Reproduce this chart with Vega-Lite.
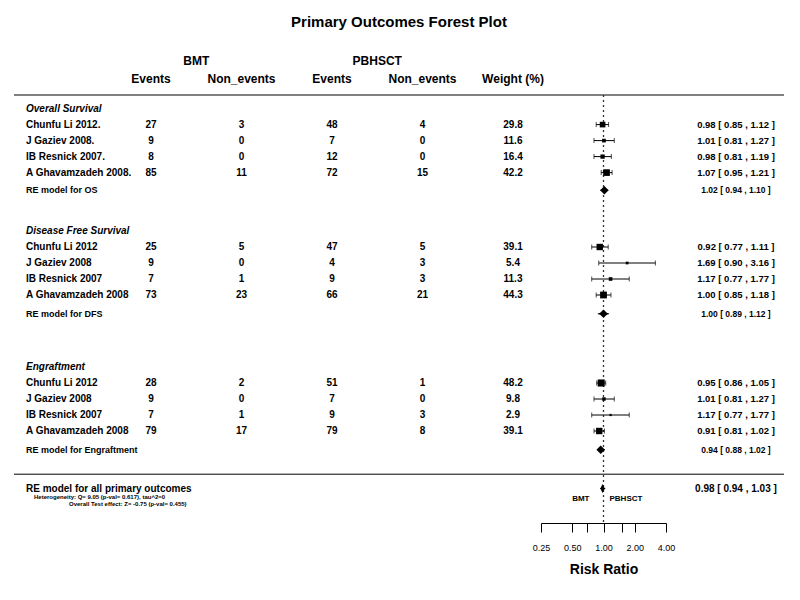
{
  "$schema": "https://vega.github.io/schema/vega-lite/v6.json",
  "padding": {"left": 13, "top": 15, "right": 5, "bottom": 10},
  "title": {"text": "Primary Outcomes Forest Plot", "fontSize": 15, "fontWeight": "bold", "font": "Liberation Sans", "anchor": "middle", "offset": 17, "color": "black"},
  "config": {"view": {"stroke": null}, "text": {"font": "Liberation Sans", "color": "black"},
    "axisX": {"grid": false, "domainColor": "black", "tickColor": "black", "labelColor": "black", "titleColor": "black"}},
  "spacing": 0,
  "bounds": "flush",
  "datasets": {
    "hlines": [{"r": 0}, {"r": 23.7}],
    "refline": [{"rr": 1, "r": 0}],
    "sections": [
      {"name": "Overall Survival", "r": 0.85},
      {"name": "Disease Free Survival", "r": 8.5},
      {"name": "Engraftment", "r": 17.0}
    ],
    "headers": [
      {"col": "BMT", "label": "BMT", "r": -2.15},
      {"col": "PBHSCT", "label": "PBHSCT", "r": -2.15},
      {"col": "bmt_e", "label": "Events", "r": -1.0},
      {"col": "bmt_n", "label": "Non_events", "r": -1.0},
      {"col": "pb_e", "label": "Events", "r": -1.0},
      {"col": "pb_n", "label": "Non_events", "r": -1.0},
      {"col": "weight", "label": "Weight (%)", "r": -1.0}
    ],
    "studies": [
      {"outcome": "OS", "study": "Chunfu Li 2012.", "r": 1.85, "bmt_e": 27, "bmt_n": 3, "pb_e": 48, "pb_n": 4, "weight": 29.8, "est": 0.98, "lo": 0.85, "hi": 1.12, "ci": "0.98 [ 0.85 , 1.12 ]"},
      {"outcome": "OS", "study": "J Gaziev 2008.", "r": 2.85, "bmt_e": 9, "bmt_n": 0, "pb_e": 7, "pb_n": 0, "weight": 11.6, "est": 1.01, "lo": 0.81, "hi": 1.27, "ci": "1.01 [ 0.81 , 1.27 ]"},
      {"outcome": "OS", "study": "IB Resnick 2007.", "r": 3.85, "bmt_e": 8, "bmt_n": 0, "pb_e": 12, "pb_n": 0, "weight": 16.4, "est": 0.98, "lo": 0.81, "hi": 1.19, "ci": "0.98 [ 0.81 , 1.19 ]"},
      {"outcome": "OS", "study": "A Ghavamzadeh 2008.", "r": 4.85, "bmt_e": 85, "bmt_n": 11, "pb_e": 72, "pb_n": 15, "weight": 42.2, "est": 1.07, "lo": 0.95, "hi": 1.21, "ci": "1.07 [ 0.95 , 1.21 ]"},
      {"outcome": "DFS", "study": "Chunfu Li 2012", "r": 9.5, "bmt_e": 25, "bmt_n": 5, "pb_e": 47, "pb_n": 5, "weight": 39.1, "est": 0.92, "lo": 0.77, "hi": 1.11, "ci": "0.92 [ 0.77 , 1.11 ]"},
      {"outcome": "DFS", "study": "J Gaziev 2008", "r": 10.5, "bmt_e": 9, "bmt_n": 0, "pb_e": 4, "pb_n": 3, "weight": 5.4, "est": 1.69, "lo": 0.90, "hi": 3.16, "ci": "1.69 [ 0.90 , 3.16 ]"},
      {"outcome": "DFS", "study": "IB Resnick 2007", "r": 11.5, "bmt_e": 7, "bmt_n": 1, "pb_e": 9, "pb_n": 3, "weight": 11.3, "est": 1.17, "lo": 0.77, "hi": 1.77, "ci": "1.17 [ 0.77 , 1.77 ]"},
      {"outcome": "DFS", "study": "A Ghavamzadeh 2008", "r": 12.5, "bmt_e": 73, "bmt_n": 23, "pb_e": 66, "pb_n": 21, "weight": 44.3, "est": 1.00, "lo": 0.85, "hi": 1.18, "ci": "1.00 [ 0.85 , 1.18 ]"},
      {"outcome": "Engraftment", "study": "Chunfu Li 2012", "r": 18.0, "bmt_e": 28, "bmt_n": 2, "pb_e": 51, "pb_n": 1, "weight": 48.2, "est": 0.95, "lo": 0.86, "hi": 1.05, "ci": "0.95 [ 0.86 , 1.05 ]"},
      {"outcome": "Engraftment", "study": "J Gaziev 2008", "r": 19.0, "bmt_e": 9, "bmt_n": 0, "pb_e": 7, "pb_n": 0, "weight": 9.8, "est": 1.01, "lo": 0.81, "hi": 1.27, "ci": "1.01 [ 0.81 , 1.27 ]"},
      {"outcome": "Engraftment", "study": "IB Resnick 2007", "r": 20.0, "bmt_e": 7, "bmt_n": 1, "pb_e": 9, "pb_n": 3, "weight": 2.9, "est": 1.17, "lo": 0.77, "hi": 1.77, "ci": "1.17 [ 0.77 , 1.77 ]"},
      {"outcome": "Engraftment", "study": "A Ghavamzadeh 2008", "r": 21.0, "bmt_e": 79, "bmt_n": 17, "pb_e": 79, "pb_n": 8, "weight": 39.1, "est": 0.91, "lo": 0.81, "hi": 1.02, "ci": "0.91 [ 0.81 , 1.02 ]"}
    ],
    "pooled": [
      {"kind": "re", "label": "RE model for OS", "r": 5.95, "est": 1.02, "lo": 0.94, "hi": 1.10, "ci": "1.02 [ 0.94 , 1.10 ]"},
      {"kind": "re", "label": "RE model for DFS", "r": 13.67, "est": 1.00, "lo": 0.89, "hi": 1.12, "ci": "1.00 [ 0.89 , 1.12 ]"},
      {"kind": "re", "label": "RE model for Engraftment", "r": 22.17, "est": 0.94, "lo": 0.88, "hi": 1.02, "ci": "0.94 [ 0.88 , 1.02 ]"},
      {"kind": "overall", "label": "RE model for all primary outcomes", "r": 24.6, "est": 0.98, "lo": 0.94, "hi": 1.03, "ci": "0.98 [ 0.94 , 1.03 ]"}
    ],
    "stats": [
      {"line": 1, "text": "Heterogeneity:   Q= 9.05 (p-val= 0.617),    tau^2=0", "r": 25.12},
      {"line": 2, "text": "Overall Test effect:   Z= -0.75 (p-val= 0.455)", "r": 25.57}
    ],
    "directions": [
      {"side": "BMT", "r": 25.25},
      {"side": "PBHSCT", "r": 25.25}
    ]
  },
  "hconcat": [
    {
      "width": 24,
      "height": 476,
      "encoding": {"y": {"field": "r", "type": "quantitative", "scale": {"domain": [-3, 26.75], "reverse": true, "nice": false, "zero": false}, "axis": null}},
      "layer": [
        {"data": {"name": "hlines"}, "mark": {"type": "rule", "color": "black", "strokeWidth": 1}, "encoding": {}},
        {"data": {"name": "sections"}, "mark": {"type": "text", "align": "left", "baseline": "middle", "fontSize": 10, "fontWeight": "bold", "fontStyle": "italic"}, "encoding": {"text": {"field": "name"}}},
        {"data": {"name": "studies"}, "mark": {"type": "text", "align": "left", "baseline": "middle", "fontSize": 10, "fontWeight": "bold"}, "encoding": {"text": {"field": "study"}}},
        {"data": {"name": "pooled"}, "transform": [{"filter": "datum.kind == 're'"}], "mark": {"type": "text", "align": "left", "baseline": "middle", "fontSize": 9, "fontWeight": "bold"}, "encoding": {"text": {"field": "label"}}},
        {"data": {"name": "pooled"}, "transform": [{"filter": "datum.kind == 'overall'"}], "mark": {"type": "text", "align": "left", "baseline": "middle", "fontSize": 10, "fontWeight": "bold"}, "encoding": {"text": {"field": "label"}}},
        {"data": {"name": "stats"}, "transform": [{"filter": "datum.line == 1"}], "mark": {"type": "text", "align": "left", "baseline": "middle", "fontSize": 6, "fontWeight": "bold", "dx": 8}, "encoding": {"text": {"field": "text"}}},
        {"data": {"name": "stats"}, "transform": [{"filter": "datum.line == 2"}], "mark": {"type": "text", "align": "left", "baseline": "middle", "fontSize": 6, "fontWeight": "bold", "dx": 43}, "encoding": {"text": {"field": "text"}}}
      ]
    },
    {
      "width": 503,
      "height": 476,
      "encoding": {"y": {"field": "r", "type": "quantitative", "scale": {"domain": [-3, 26.75], "reverse": true, "nice": false, "zero": false}, "axis": null}},
      "layer": [
        {"data": {"name": "hlines"}, "mark": {"type": "rule", "color": "black", "strokeWidth": 1}, "encoding": {}},
        {"data": {"name": "headers"}, "mark": {"type": "text", "align": "center", "baseline": "middle", "fontSize": 12, "fontWeight": "bold"},
         "encoding": {
           "x": {"field": "col", "type": "nominal", "scale": {"type": "point", "domain": ["lead1", "lead2", "bmt_e", "BMT", "bmt_n", "gap1", "pb_e", "PBHSCT", "pb_n", "gap2", "weight"], "padding": 0.558, "align": 0.4455}, "axis": null},
           "text": {"field": "label"}}},
        {"data": {"name": "studies"}, "transform": [{"fold": ["bmt_e", "bmt_n", "pb_e", "pb_n"], "as": ["col", "n"]}],
         "mark": {"type": "text", "align": "center", "baseline": "middle", "fontSize": 10, "fontWeight": "bold"},
         "encoding": {
           "x": {"field": "col", "type": "nominal", "scale": {"type": "point", "domain": ["lead1", "lead2", "bmt_e", "BMT", "bmt_n", "gap1", "pb_e", "PBHSCT", "pb_n", "gap2", "weight"], "padding": 0.558, "align": 0.4455}, "axis": null},
           "text": {"field": "n", "type": "quantitative", "format": "d"}}},
        {"data": {"name": "studies"},
         "mark": {"type": "text", "align": "center", "baseline": "middle", "fontSize": 10, "fontWeight": "bold"},
         "encoding": {
           "x": {"datum": "weight", "type": "nominal", "scale": {"type": "point", "domain": ["lead1", "lead2", "bmt_e", "BMT", "bmt_n", "gap1", "pb_e", "PBHSCT", "pb_n", "gap2", "weight"], "padding": 0.558, "align": 0.4455}, "axis": null},
           "text": {"field": "weight", "type": "quantitative", "format": ".1f"}}}
      ]
    },
    {
      "width": 125,
      "height": 476,
      "encoding": {
        "y": {"field": "r", "type": "quantitative", "scale": {"domain": [-3, 26.75], "reverse": true, "nice": false, "zero": false}, "axis": null}
      },
      "layer": [
        {"data": {"name": "hlines"}, "mark": {"type": "rule", "color": "black", "strokeWidth": 1}, "encoding": {}},
        {"data": {"name": "refline"}, "mark": {"type": "rule", "color": "#333333", "strokeWidth": 1.3, "strokeDash": [2, 3]},
         "encoding": {
           "x": {"field": "rr", "type": "quantitative", "scale": {"type": "log", "base": 2, "domain": [0.25, 4], "nice": false},
                 "axis": {"values": [0.25, 0.5, 0.7, 1, 1.5, 2, 4], "labelExpr": "datum.value == 0.7 || datum.value == 1.5 ? '' : format(datum.value, '.2f')", "title": "Risk Ratio", "orient": "bottom", "tickSize": 9, "tickWidth": 1, "domainWidth": 1, "labelFont": "Liberation Sans", "labelFontSize": 9, "labelPadding": 11, "labelFlush": false, "labelOverlap": false, "titleFont": "Liberation Sans", "titleFontSize": 14, "titleFontWeight": "bold", "titlePadding": 10}},
           "y2": {"datum": 26.75}}},
        {"data": {"name": "studies"}, "mark": {"type": "rule", "color": "black", "strokeWidth": 1},
         "encoding": {
           "x": {"field": "lo", "type": "quantitative"},
           "x2": {"field": "hi"}}},
        {"data": {"name": "studies"}, "mark": {"type": "tick", "orient": "vertical", "color": "black", "size": 5, "thickness": 1},
         "encoding": {"x": {"field": "lo", "type": "quantitative"}}},
        {"data": {"name": "studies"}, "mark": {"type": "tick", "orient": "vertical", "color": "black", "size": 5, "thickness": 1},
         "encoding": {"x": {"field": "hi", "type": "quantitative"}}},
        {"data": {"name": "studies"}, "mark": {"type": "point", "shape": "square", "filled": true, "color": "black", "opacity": 1},
         "encoding": {
           "x": {"field": "est", "type": "quantitative"},
           "size": {"field": "weight", "type": "quantitative", "scale": {"domain": [0, 48.2], "range": [2, 50]}, "legend": null}}},
        {"data": {"name": "pooled"}, "transform": [{"fold": ["lo", "est", "hi"], "as": ["pt", "rr"]}],
         "mark": {"type": "trail", "color": "black"},
         "encoding": {
           "x": {"field": "rr", "type": "quantitative"},
           "detail": {"field": "label"},
           "size": {"field": "pt", "type": "ordinal", "scale": {"type": "ordinal", "domain": ["lo", "est", "hi"], "range": [0, 3, 0]}, "legend": null}}},
        {"data": {"name": "pooled"}, "transform": [{"filter": "datum.kind == 're'"}],
         "mark": {"type": "point", "shape": "diamond", "filled": true, "color": "black", "opacity": 1, "size": 72},
         "encoding": {"x": {"field": "est", "type": "quantitative"}}},
        {"data": {"name": "pooled"}, "transform": [{"filter": "datum.kind == 'overall'"}],
         "mark": {"type": "point", "shape": "M-0.5,0L0,-1L0.5,0L0,1Z", "filled": true, "color": "black", "opacity": 1, "size": 81},
         "encoding": {"x": {"field": "est", "type": "quantitative"}}},
        {"data": {"name": "directions"}, "transform": [{"filter": "datum.side == 'BMT'"}],
         "mark": {"type": "text", "align": "right", "baseline": "middle", "fontSize": 8, "fontWeight": "bold", "dx": -14},
         "encoding": {
           "x": {"datum": 1, "type": "quantitative"},
           "text": {"field": "side"}}},
        {"data": {"name": "directions"}, "transform": [{"filter": "datum.side == 'PBHSCT'"}],
         "mark": {"type": "text", "align": "left", "baseline": "middle", "fontSize": 8, "fontWeight": "bold", "dx": 6},
         "encoding": {
           "x": {"datum": 1, "type": "quantitative"},
           "text": {"field": "side"}}}
      ]
    },
    {
      "width": 118,
      "height": 476,
      "encoding": {"y": {"field": "r", "type": "quantitative", "scale": {"domain": [-3, 26.75], "reverse": true, "nice": false, "zero": false}, "axis": null}},
      "layer": [
        {"data": {"name": "hlines"}, "mark": {"type": "rule", "color": "black", "strokeWidth": 1}, "encoding": {}},
        {"data": {"name": "studies"}, "mark": {"type": "text", "align": "center", "baseline": "middle", "fontSize": 9.5, "fontWeight": "bold"},
         "encoding": {
           "x": {"datum": "CI", "type": "nominal", "scale": {"type": "point", "domain": ["CI"], "padding": 0, "align": 0.593}, "axis": null},
           "text": {"field": "ci"}}},
        {"data": {"name": "pooled"}, "transform": [{"filter": "datum.kind == 're'"}], "mark": {"type": "text", "align": "center", "baseline": "middle", "fontSize": 8.5, "fontWeight": "bold"},
         "encoding": {
           "x": {"datum": "CI", "type": "nominal", "scale": {"type": "point", "domain": ["CI"], "padding": 0, "align": 0.593}, "axis": null},
           "text": {"field": "ci"}}},
        {"data": {"name": "pooled"}, "transform": [{"filter": "datum.kind == 'overall'"}], "mark": {"type": "text", "align": "center", "baseline": "middle", "fontSize": 10, "fontWeight": "bold"},
         "encoding": {
           "x": {"datum": "CI", "type": "nominal", "scale": {"type": "point", "domain": ["CI"], "padding": 0, "align": 0.593}, "axis": null},
           "text": {"field": "ci"}}}
      ]
    }
  ]
}
